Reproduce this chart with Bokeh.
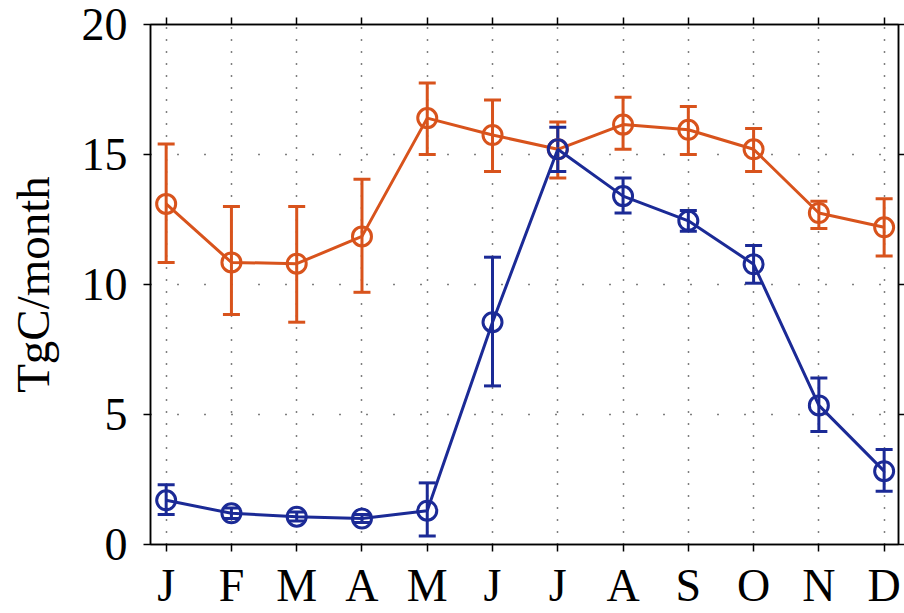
from bokeh.plotting import figure
from bokeh.models import (ColumnDataSource, Whisker, TeeHead, LinearAxis, FixedTicker,
                          Range1d)
from bokeh.embed import file_html
from bokeh.resources import INLINE

months = ["J", "F", "M", "A", "M", "J", "J", "A", "S", "O", "N", "D"]

orange_mean = [13.1, 10.85, 10.8, 11.85, 16.4, 15.75, 15.2, 16.15, 15.95, 15.2, 12.75, 12.2]
orange_low = [10.85, 8.85, 8.55, 9.7, 15.0, 14.35, 14.1, 15.2, 15.0, 14.35, 12.15, 11.1]
orange_high = [15.4, 13.0, 13.0, 14.05, 17.75, 17.1, 16.25, 17.2, 16.85, 16.0, 13.2, 13.3]

blue_mean = [1.7, 1.2, 1.07, 1.0, 1.3, 8.55, 15.2, 13.4, 12.45, 10.78, 5.35, 2.82]
blue_low = [1.15, 1.0, 0.9, 0.85, 0.33, 6.1, 14.35, 12.75, 12.05, 10.05, 4.35, 2.05]
blue_high = [2.3, 1.4, 1.25, 1.15, 2.37, 11.05, 16.05, 14.1, 12.85, 11.5, 6.4, 3.65]

y_ticks = [0, 5, 10, 15, 20]

ORANGE = "#D8531C"
BLUE = "#1B2A96"
FONT = "Liberation Serif"

x = list(range(len(months)))

p = figure(width=904, height=613, output_backend="svg", toolbar_location=None,
           x_range=Range1d(-0.24, len(months) - 1 + 0.22), y_range=Range1d(0, 20),
           min_border_left=150, min_border_top=24, min_border_right=6, min_border_bottom=10,
           background_fill_color="white", border_fill_color="white")
p.outline_line_color = "black"
p.outline_line_width = 1.5

for ax in (p.xaxis[0], p.yaxis[0]):
    ax.axis_line_color = "black"
    ax.axis_line_width = 1.5
    ax.major_tick_line_width = 1.5
    ax.major_tick_out = 7
    ax.major_tick_in = 0
    ax.minor_tick_line_color = None
    ax.major_label_text_font = FONT
    ax.major_label_text_font_size = "46px"
    ax.major_label_text_color = "black"

p.xaxis.ticker = FixedTicker(ticks=x)
p.xaxis.major_label_overrides = {i: m for i, m in enumerate(months)}
p.xaxis.major_label_standoff = 8
p.yaxis.ticker = FixedTicker(ticks=y_ticks)
p.yaxis.major_label_standoff = 16
p.yaxis.axis_label = "TgC/month"
p.yaxis.axis_label_text_font = FONT
p.yaxis.axis_label_text_font_style = "normal"
p.yaxis.axis_label_text_font_size = "47px"
p.yaxis.axis_label_text_color = "black"
p.yaxis.axis_label_standoff = 20

# mirrored axes (ticks only, no labels)
top = LinearAxis(ticker=FixedTicker(ticks=x), major_label_text_color=None,
                 major_label_text_font_size="1px",
                 major_label_overrides={i: "" for i in x},
                 major_tick_out=7, major_tick_in=0, minor_tick_line_color=None,
                 axis_line_width=1.5, major_tick_line_width=1.5, major_label_standoff=0)
right = LinearAxis(ticker=FixedTicker(ticks=y_ticks), major_label_text_color=None,
                   major_label_text_font_size="1px",
                   major_label_overrides={t: "" for t in y_ticks},
                   major_tick_out=6, major_tick_in=0, minor_tick_line_color=None,
                   axis_line_width=1.5, major_tick_line_width=1.5, major_label_standoff=0)
p.add_layout(top, "above")
p.add_layout(right, "right")

p.xgrid.ticker = FixedTicker(ticks=x)
p.ygrid.ticker = FixedTicker(ticks=[5, 10, 15])
p.xgrid.grid_line_color = "black"
p.xgrid.grid_line_dash = "1 11"
p.xgrid.grid_line_width = 1.5
p.ygrid.grid_line_color = "black"
p.ygrid.grid_line_dash = "1 26"
p.ygrid.grid_line_width = 1.5

src_o = ColumnDataSource(dict(x=x, y=orange_mean, lo=orange_low, hi=orange_high))
src_b = ColumnDataSource(dict(x=x, y=blue_mean, lo=blue_low, hi=blue_high))

for src, col in ((src_o, ORANGE), (src_b, BLUE)):
    w = Whisker(source=src, base="x", lower="lo", upper="hi", dimension="height",
                line_color=col, line_width=3,
                upper_head=TeeHead(size=17, line_color=col, line_width=3),
                lower_head=TeeHead(size=17, line_color=col, line_width=3))
    p.add_layout(w)
    p.line("x", "y", source=src, line_color=col, line_width=3)
    p.scatter("x", "y", source=src, marker="circle", size=19, fill_color=None,
              line_color=col, line_width=3)

open("out.html", "w").write(file_html(p, INLINE))
